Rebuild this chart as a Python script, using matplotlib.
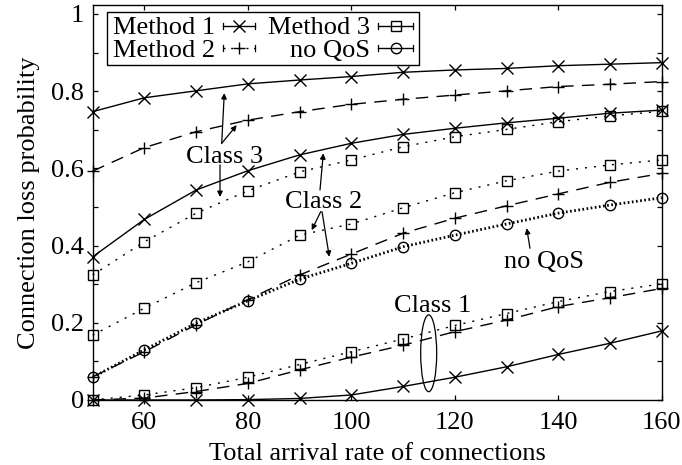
import matplotlib
matplotlib.use("Agg")
import matplotlib.pyplot as plt
from matplotlib.lines import Line2D
from matplotlib.patches import Rectangle, Ellipse
from matplotlib.ticker import FixedLocator, MultipleLocator

plt.rcParams['font.family'] = ['Liberation Serif', 'DejaVu Serif']
plt.rcParams['mathtext.fontset'] = 'stix'

# ---------------- data ----------------
rate = [50, 60, 70, 80, 90, 100, 110, 120, 130, 140, 150, 160]

m1_class3 = [0.747, 0.783, 0.801, 0.819, 0.829, 0.838, 0.849, 0.855, 0.859, 0.866, 0.870, 0.874]
m2_class3 = [0.593, 0.654, 0.695, 0.725, 0.747, 0.766, 0.779, 0.790, 0.801, 0.812, 0.818, 0.825]
m3_class3 = [0.324, 0.410, 0.484, 0.542, 0.591, 0.622, 0.656, 0.682, 0.701, 0.721, 0.736, 0.748]

m1_class2 = [0.371, 0.468, 0.544, 0.594, 0.635, 0.665, 0.688, 0.704, 0.718, 0.730, 0.743, 0.751]
m2_class2 = [0.060, 0.125, 0.195, 0.260, 0.324, 0.378, 0.432, 0.471, 0.503, 0.534, 0.564, 0.587]
m3_class2 = [0.168, 0.238, 0.304, 0.358, 0.427, 0.456, 0.498, 0.537, 0.568, 0.593, 0.609, 0.622]

m1_class1 = [0.000, 0.000, 0.000, 0.001, 0.004, 0.013, 0.035, 0.059, 0.086, 0.118, 0.147, 0.179]
m2_class1 = [0.000, 0.005, 0.022, 0.043, 0.078, 0.111, 0.142, 0.177, 0.207, 0.242, 0.265, 0.289]
m3_class1 = [0.000, 0.013, 0.032, 0.059, 0.092, 0.125, 0.158, 0.193, 0.224, 0.255, 0.281, 0.301]

no_qos = [0.059, 0.130, 0.199, 0.257, 0.313, 0.354, 0.397, 0.427, 0.456, 0.484, 0.505, 0.524]

x_ticks = [60, 80, 100, 120, 140, 160]
y_ticks = [0, 0.2, 0.4, 0.6, 0.8, 1.0]
y_tick_labels = ['0', '0.2', '0.4', '0.6', '0.8', '1']
legend_labels = ['Method 1', 'Method 2', 'Method 3', 'no QoS']

FS = 19

# ---------------- styles ----------------
sty_m1 = dict(color='black', lw=1.0, ls='-', marker='x', ms=8, mew=1.0)
sty_m2 = dict(color='black', lw=1.0, ls=(0, (9, 6)), marker='+', ms=9, mew=1.0)
sty_m3 = dict(color='black', lw=1.0, ls=(0, (1.5, 5)), marker='s', ms=7.5, mew=1.0,
              fillstyle='none')
sty_nq = dict(color='black', lw=2.0, ls=(0, (0.6, 0.9)), marker='o', ms=7.5, mew=1.0,
              fillstyle='none')

fig = plt.figure(figsize=(6.82, 4.65), dpi=100)
ax = fig.add_axes([0.1359, 0.1398, 0.9703 - 0.1359, 0.9899 - 0.1398])

for series, sty in [(m3_class3, sty_m3), (m3_class2, sty_m3), (m3_class1, sty_m3),
                    (no_qos, sty_nq),
                    (m2_class3, sty_m2), (m2_class2, sty_m2), (m2_class1, sty_m2),
                    (m1_class3, sty_m1), (m1_class2, sty_m1), (m1_class1, sty_m1)]:
    ax.plot(rate, series, clip_on=False, zorder=3, **sty)

ax.set_xlim(50, 160)
ax.set_ylim(0, 1.0241)
ax.xaxis.set_major_locator(FixedLocator(x_ticks))
ax.yaxis.set_major_locator(FixedLocator(y_ticks))
ax.set_yticklabels(y_tick_labels)
ax.yaxis.set_minor_locator(MultipleLocator(0.1))
ax.tick_params(which='both', direction='in', length=3.6, width=0.9,
               top=True, right=True, labelsize=FS, pad=6)
ax.tick_params(axis='x', which='both', pad=9)
for sp in ax.spines.values():
    sp.set_linewidth(1.0)

ax.set_xlabel('Total arrival rate of connections', fontsize=FS, labelpad=6)
ax.set_ylabel('Connection loss probability', fontsize=FS, labelpad=8)

# ---------------- annotations ----------------
aprops = dict(arrowstyle='-|>', color='black', lw=0.9, mutation_scale=8,
              shrinkA=0, shrinkB=0)

ax.text(75.57, 0.613, 'Class 3', fontsize=FS, ha='center', va='baseline', zorder=5)
ax.annotate('', xy=(75.44, 0.795), xytext=(74.94, 0.665), arrowprops=aprops)
ax.annotate('', xy=(77.84, 0.712), xytext=(74.94, 0.665), arrowprops=aprops)
ax.annotate('', xy=(74.61, 0.526), xytext=(74.61, 0.609), arrowprops=aprops)

ax.text(94.62, 0.497, 'Class 2', fontsize=FS, ha='center', va='baseline', zorder=5)
ax.annotate('', xy=(94.58, 0.639), xytext=(93.94, 0.544), arrowprops=aprops)
ax.annotate('', xy=(92.34, 0.440), xytext=(94.08, 0.488), arrowprops=aprops)
ax.annotate('', xy=(95.74, 0.371), xytext=(94.33, 0.488), arrowprops=aprops)

ax.text(137.24, 0.341, 'no QoS', fontsize=FS, ha='center', va='baseline', zorder=5)
ax.annotate('', xy=(133.90, 0.445), xytext=(134.53, 0.393), arrowprops=aprops)

ax.text(115.69, 0.229, 'Class 1', fontsize=FS, ha='center', va='baseline', zorder=5)
ax.add_patch(Ellipse((114.95, 0.121), 3.09, 0.199, fill=False, ec='black', lw=0.9,
                     zorder=4))

# ---------------- legend (gnuplot style: text right-aligned, sample after) ----------------
T = ax.transAxes
ax.add_patch(Rectangle((0.0246, 0.8475), 0.574 - 0.0246, 0.9823 - 0.8475, transform=T,
                       fill=True, fc='white', ec='black', lw=1.0, zorder=6))
entries = [
    (legend_labels[0], sty_m1, 0.215, 0.229, 0.285, 0.9253, 0.9469),
    (legend_labels[1], sty_m2, 0.215, 0.229, 0.285, 0.8685, 0.8897),
    (legend_labels[2], sty_m3, 0.4873, 0.5014, 0.563, 0.9253, 0.9469),
    (legend_labels[3], sty_nq, 0.4873, 0.5014, 0.563, 0.8685, 0.8897),
]
for label, sty, tx, s0, s1, ty, sy in entries:
    ax.text(tx, ty, label, transform=T, fontsize=FS, ha='right', va='baseline', zorder=7)
    if sty is sty_m2:
        ax.add_line(Line2D([s0, s1], [sy, sy], transform=T, zorder=7, clip_on=False,
                           color='black', lw=1.0, ls=(0, (1.5, 4))))
    else:
        ax.add_line(Line2D([s0, s1], [sy, sy], transform=T, zorder=7, clip_on=False,
                           color='black', lw=1.0, ls='-'))
    ax.add_line(Line2D([(s0 + s1) / 2], [sy], transform=T, zorder=8, clip_on=False,
                       color='black', ls='none', marker=sty['marker'], ms=sty['ms'],
                       mew=sty['mew'], fillstyle=sty.get('fillstyle', 'full'),
                       markerfacecolor='white' if sty.get('fillstyle') == 'none' else None))
    # end caps
    ax.add_line(Line2D([s0, s0], [sy - 0.008, sy + 0.008], transform=T, zorder=7,
                       color='black', lw=0.9))
    ax.add_line(Line2D([s1, s1], [sy - 0.008, sy + 0.008], transform=T, zorder=7,
                       color='black', lw=0.9))

fig.savefig('out.png', dpi=100)
